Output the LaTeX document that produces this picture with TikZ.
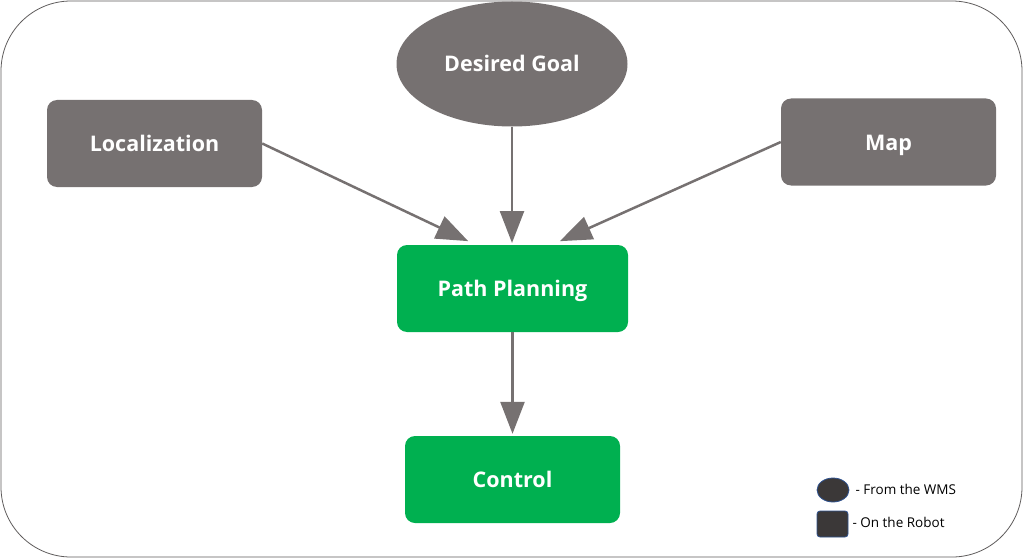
\documentclass[tikz,border=0pt]{standalone}
\usepackage{fontspec}
\setmainfont{Open Sans}
\usetikzlibrary{arrows.meta,shapes.geometric}
\definecolor{boxgrey}{HTML}{767171}
\definecolor{boxgreen}{HTML}{00B050}
\definecolor{legdark}{HTML}{3B3838}
\definecolor{legedge}{HTML}{2F528F}

\begin{document}
\begin{tikzpicture}
  [x=1pt,y=-1pt,
   every node/.style={text=white,font=\fontsize{21.5}{26}\selectfont\bfseries,text height=16pt,text depth=0pt},
   box/.style={rectangle,rounded corners=10pt,minimum width=215pt,minimum height=87pt},
   flow/.style={boxgrey,line width=2.5pt,-{Triangle[length=32pt,width=24pt]},shorten >=2pt}]
  \useasboundingbox (0,0) rectangle (1024,559);
  \draw[boxgrey!80!black,line width=0.8pt,rounded corners=70pt] (1,1) rectangle (1022,557);

  \node (goal) [ellipse,fill=boxgrey,minimum width=231pt,minimum height=125pt] at (512,64) {Desired Goal};
  \node (loc) [box,fill=boxgrey] at (154.5,143.5) {Localization};
  \node (map) [box,fill=boxgrey] at (888.5,142) {Map};
  \node (path) [box,fill=boxgreen,minimum width=231pt] at (512.5,288.5) {Path Planning};
  \node (ctrl) [box,fill=boxgreen] at (512.5,479.5) {Control};

  \coordinate (in1) at (470,242);
  \coordinate (in2) at (512,245);
  \coordinate (in3) at (558,242);
  \draw[flow] (loc.east) -- (in1);
  \draw[flow] (goal.south) -- (in2);
  \draw[flow] (map.west) -- (in3);
  \draw[flow] (path.south) -- (ctrl.north);

  % legend
  \node (lwms) [ellipse,fill=legdark,draw=legedge,line width=0.8pt,minimum width=32pt,minimum height=24pt,inner sep=0pt,text height=,text depth=] at (833,490) {};
  \node (lrob) [rectangle,rounded corners=3pt,fill=legdark,draw=legedge,line width=0.8pt,minimum width=31pt,minimum height=26pt,inner sep=0pt,text height=,text depth=] at (832.5,524) {};
  \node [anchor=west,text=black,font=\fontsize{13.5}{16}\selectfont,text height=10pt,text depth=1pt] at (852,490) {- From the WMS};
  \node [anchor=west,text=black,font=\fontsize{13.5}{16}\selectfont,text height=10pt,text depth=1pt] at (849,523) {- On the Robot};
\end{tikzpicture}
\end{document}
